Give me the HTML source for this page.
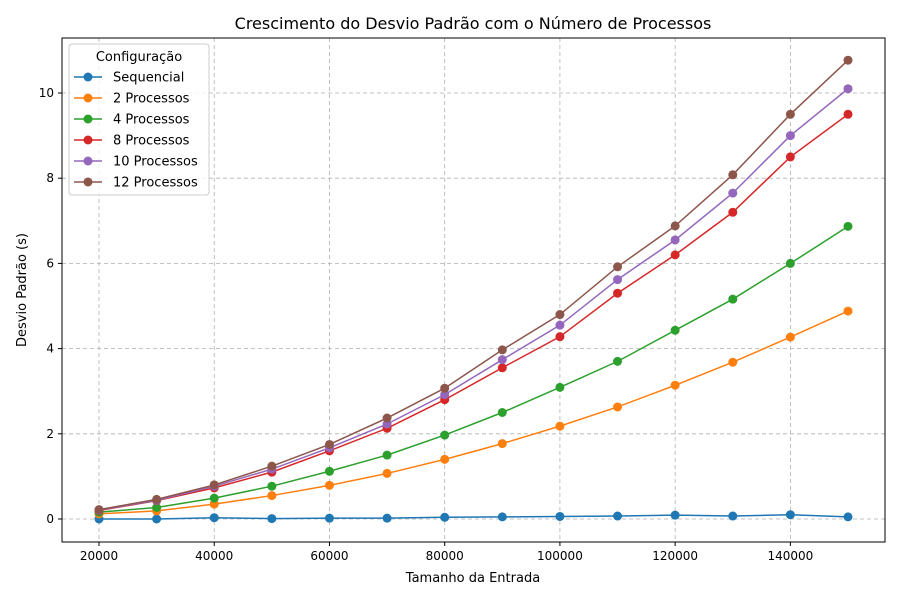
<!DOCTYPE html>
<html><head><meta charset="utf-8"><style>
body{margin:0;background:#fff;font-family:"Liberation Sans","DejaVu Sans",sans-serif;}
svg text{font-family:"DejaVu Sans","Liberation Sans",sans-serif;}
</style></head><body>
<svg id="chart" width="900" height="600" xmlns="http://www.w3.org/2000/svg">
<rect width="900" height="600" fill="#fff"/>
<text x="473" y="29" text-anchor="middle" font-size="16">Crescimento do Desvio Padrão com o Número de Processos</text>
<g id="grid"></g><g id="axes"></g><g id="series"></g><g id="legend"></g>
<text x="473" y="582" text-anchor="middle" font-size="13">Tamanho da Entrada</text>
<text transform="translate(26,290) rotate(-90)" text-anchor="middle" font-size="13">Desvio Padrão (s)</text>
</svg>
<script>
const categories=[20000,30000,40000,50000,60000,70000,80000,90000,100000,110000,120000,130000,140000,150000];
const seriesNames=["Sequencial","2 Processos","4 Processos","8 Processos","10 Processos","12 Processos"];
const seqValues=[0,0,0.03,0.01,0.02,0.02,0.04,0.05,0.06,0.07,0.09,0.07,0.1,0.05];
const p2Values=[0.12,0.19,0.35,0.55,0.79,1.07,1.4,1.77,2.18,2.63,3.14,3.68,4.27,4.88];
const p4Values=[0.16,0.27,0.49,0.77,1.12,1.5,1.97,2.5,3.09,3.7,4.43,5.16,6.0,6.87];
const p8Values=[0.2,0.43,0.73,1.1,1.6,2.13,2.8,3.55,4.28,5.3,6.2,7.2,8.5,9.5];
const p10Values=[0.21,0.44,0.77,1.17,1.67,2.23,2.92,3.74,4.55,5.62,6.55,7.65,9.0,10.1];
const p12Values=[0.22,0.46,0.8,1.24,1.75,2.37,3.07,3.97,4.8,5.92,6.88,8.08,9.5,10.77];
const xTicks=[20000,40000,60000,80000,100000,120000,140000];
const yTicks=[0,2,4,6,8,10];
const allSeries=[seqValues,p2Values,p4Values,p8Values,p10Values,p12Values];
const colors=["#1f77b4","#ff7f0e","#2ca02c","#d62728","#9467bd","#8c564b"];
const NS="http://www.w3.org/2000/svg";
const L=62,R=885,T=38,B=542;
const xS=v=>99+(v-20000)*(848-99)/130000;
const yS=v=>519-v*42.6;
function mk(tag,attrs,parent,text){const e=document.createElementNS(NS,tag);for(const k in attrs)e.setAttribute(k,attrs[k]);if(text!==undefined)e.textContent=text;parent.appendChild(e);return e;}
const grid=document.getElementById('grid'),axes=document.getElementById('axes'),ser=document.getElementById('series'),leg=document.getElementById('legend');
xTicks.forEach(t=>{const x=xS(t);
const g=mk('line',{x1:x,x2:x,y1:T,y2:B,stroke:'#b0b0b0','stroke-dasharray':'4,3','stroke-width':0.8},grid);

mk('line',{x1:x,x2:x,y1:B,y2:B+4,stroke:'#000'},axes);
const tx=mk('text',{x:x,y:B+18,'text-anchor':'middle','font-size':12},axes,String(t));
});
yTicks.forEach(t=>{const y=yS(t);
const g=mk('line',{x1:L,x2:R,y1:y,y2:y,stroke:'#b0b0b0','stroke-dasharray':'4,3','stroke-width':0.8},grid);

mk('line',{x1:L-4,x2:L,y1:y,y2:y,stroke:'#000'},axes);
const tx=mk('text',{x:L-8,y:y+4,'text-anchor':'end','font-size':12},axes,String(t));
});
const fr=mk('rect',{x:L,y:T,width:R-L,height:B-T,fill:'none',stroke:'#000','stroke-width':1},axes);

allSeries.forEach((vals,i)=>{
const g=mk('g',{},ser);


mk('polyline',{points:vals.map((v,j)=>xS(categories[j])+','+yS(v)).join(' '),fill:'none',stroke:colors[i],'stroke-width':1.5},g);
vals.forEach((v,j)=>{const c=mk('circle',{cx:xS(categories[j]),cy:yS(v),r:4.5,fill:colors[i]},g);
});});
const lb=mk('rect',{x:69,y:44,width:140,height:151,fill:'#fff','fill-opacity':0.8,stroke:'#ccc',rx:3},leg);

const lt=mk('text',{x:139,y:61,'text-anchor':'middle','font-size':13},leg,'Configuração');

seriesNames.forEach((n,i)=>{const y=77+i*21;
const g=mk('g',{},leg);

mk('line',{x1:74,x2:102,y1:y,y2:y,stroke:colors[i],'stroke-width':1.5},g);
mk('circle',{cx:88,cy:y,r:4.5,fill:colors[i]},g);
mk('text',{x:113,y:y+4.5,'font-size':13},g,n);});
</script>
</body></html>
